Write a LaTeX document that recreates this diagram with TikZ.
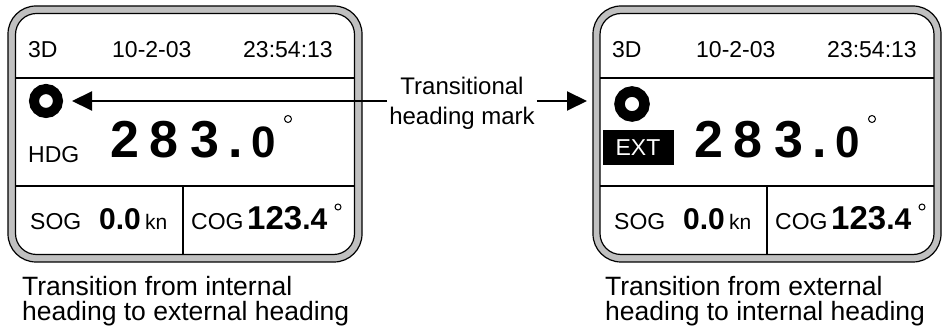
\documentclass[tikz,border=0pt]{standalone}
\usepackage{fontspec}
\setmainfont{Liberation Sans}
\usetikzlibrary{arrows.meta,positioning,calc}
\definecolor{framegray}{RGB}{192,192,192}

\begin{document}
\begin{tikzpicture}[x=1pt, y=-1pt,
    frameout/.style={rectangle, rounded corners=28pt, draw=black, line width=1.2pt,
                     fill=framegray, inner sep=0pt, outer sep=0pt},
    framein/.style={rectangle, rounded corners=21pt, draw=black, line width=1.2pt,
                    fill=white, inner sep=0pt, outer sep=0pt},
    sep/.style={line width=2pt},
    lbl/.style={inner sep=0pt, anchor=base west, font=\fontsize{23}{23}\selectfont},
    big/.style={inner sep=0pt, anchor=base west, font=\fontsize{52}{52}\selectfont\bfseries},
    val/.style={inner sep=0pt, anchor=base west, font=\fontsize{30}{30}\selectfont\bfseries},
    ring/.style={circle, draw=black, line width=10pt, minimum size=24pt, inner sep=0pt},
    deg/.style={circle, draw=black, line width=1pt, minimum size=6pt, inner sep=0pt},
    arr/.style={-{Triangle[length=20pt, width=19pt]}, line width=2pt},
    caption/.style={align=left, anchor=north west, inner sep=0pt,
                    font=\fontsize{26.5}{25.5}\selectfont}
]
\useasboundingbox (0,0) rectangle (944,328);

% display frames
\node[frameout, minimum width=354pt, minimum height=256pt] (outL) at (185,134) {};
\node[framein, minimum width=339pt, minimum height=241pt] (inL) at (185,134) {};
\node[frameout, minimum width=348pt, minimum height=256pt] (outR) at (767,134) {};
\node[framein, minimum width=334pt, minimum height=241pt] (inR) at (767,134) {};

% common display contents
\foreach \dx/\p in {0/L,584/R}{
  \draw[sep] (in\p.west |- 0,78) -- (in\p.east |- 0,78);
  \draw[sep] (in\p.west |- 0,186) -- (in\p.east |- 0,186);
  \draw[sep] (183+\dx,186) -- (183+\dx,254.5);
  \node[lbl] (mode\p) at (28+\dx,58) {3D};
  \node[lbl] (date\p) at (112+\dx,58) {10-2-03};
  \node[lbl] (time\p) at (243+\dx,58) {23:54:13};
  \foreach \ch/\x [count=\i] in {2/110,8/149,3/190,./228}
    \node[big] (hdg\p\i) at (\x+\dx,158) {\ch};
  \node[big, font=\fontsize{44}{44}\selectfont\bfseries] (hdgd\p) at (251+\dx,158) {0};
  \node[deg, minimum size=7pt] (degh\p) at (288+\dx,119) {};
  \node[lbl] (sog\p) at (30+\dx,230) {SOG};
  \node[val] (sogv\p) at (99+\dx,230) {0.0};
  \node[lbl, font=\fontsize{21}{21}\selectfont] (kn\p) at (145+\dx,230) {kn};
  \node[lbl] (cog\p) at (191+\dx,230) {COG};
  \node[val, font=\fontsize{33}{33}\selectfont\bfseries] (cogv\p) at (247+\dx,230)
    {123{\fontsize{30}{30}\selectfont.4}};
  \node[deg] (degc\p) at (338+\dx,207) {};
}

% heading marks
\node[ring] (ringL) at (46,101) {};
\node[lbl] (hdgL) at (28,163) {HDG};
\node[ring, line width=10.5pt, minimum size=25pt] (ringR) at (632,104) {};
\node[fill=black, text=white, minimum width=71pt, minimum height=35pt, inner sep=0pt,
      font=\fontsize{23}{23}\selectfont] (ext) at (638,147.5) {EXT};

% transitional heading mark label
\node[align=center, inner sep=2pt, font=\fontsize{24}{30}\selectfont] (mark) at (462,103.5)
  {Transitional\\heading mark};
\coordinate (tipR) at (outR.west |- ringL.center);
\draw[arr, shorten >=9pt] (mark.west |- ringL.center) -- (ringL.east);
\draw[arr, shorten >=6pt] (mark.east |- ringL.center) -- (tipR);

% captions
\node[caption] (capL) at (22,276) {Transition from internal\\heading to external heading};
\node[caption] (capR) at (605,276) {Transition from external\\heading to internal heading};
\end{tikzpicture}
\end{document}
